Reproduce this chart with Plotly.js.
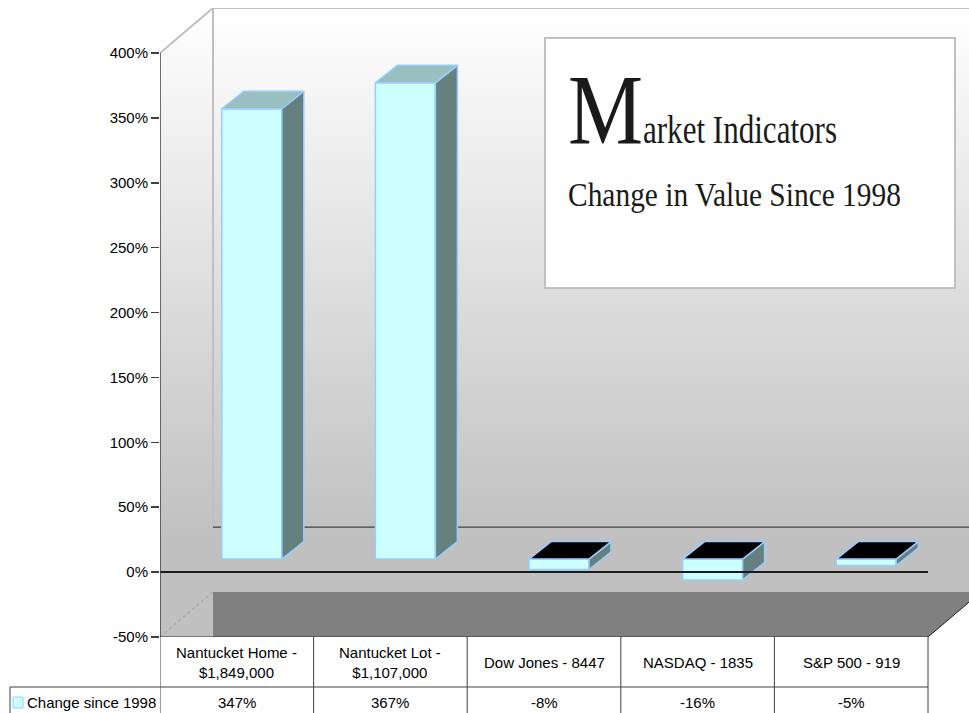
<!DOCTYPE html>
<html>
<head>
<meta charset="utf-8">
<script src="https://cdn.plot.ly/plotly-3.0.1.min.js"></script>
<style>
html,body{margin:0;padding:0;background:#fff;overflow:hidden}
#chart{width:969px;height:713px}
</style>
</head>
<body>
<div id="chart"></div>
<script>
// ---------------- data ----------------
const categories = [
  'Nantucket Home -<br>$1,849,000',
  'Nantucket Lot -<br>$1,107,000',
  'Dow Jones - 8447',
  'NASDAQ - 1835',
  'S&P 500 - 919'
];
const values = [347, 367, -8, -16, -5];
const seriesName = 'Change since 1998';
const yTickVals = [-50, 0, 50, 100, 150, 200, 250, 300, 350, 400];
const yTickText = yTickVals.map(v => v + '%');
const valueLabels = values.map(v => v + '%');
const titleInitial = 'M';
const titleRest = 'arket Indicators';
const subtitle = 'Change in Value Since 1998';

// ---------------- geometry (pixels -> data units) ----------------
const W = 969, H = 713;
const PLOT_L = 160, PLOT_B = 637, PLOT_T = 8;
const PX_CAT = 153.6;            // pixels per category
const PX_PCT = 584 / 450;        // pixels per percent
const Y_MIN = -50;
const X_MIN = -0.5;
const X_MAX = X_MIN + (W - PLOT_L) / PX_CAT;
const Y_MAX = Y_MIN + (PLOT_B - PLOT_T) / PX_PCT;
const N = categories.length;
const X_END = N - 0.5;
const Y_TOP = yTickVals[yTickVals.length - 1];
const pxToY = py => Y_MIN + (PLOT_B - py) / PX_PCT;

// wall depth
const WDX = 53 / PX_CAT, WDY = 45 / PX_PCT;
// bar placement in depth
const BDX0 = 15 / PX_CAT, BDY0 = 13 / PX_PCT;
const BDDX = 22 / PX_CAT, BDDY = 17.5 / PX_PCT;
const BW = 60 / PX_CAT;

const grad = {
  type: 'vertical',
  start: pxToY(540),
  stop: Y_MAX,
  colorscale: [[0, '#c0c0c0'], [1, '#ffffff']]
};

const traces = [];
const base = {type: 'scatter', mode: 'lines', hoverinfo: 'skip', showlegend: false};

// back wall
traces.push(Object.assign({}, base, {
  x: [X_MIN + WDX, X_MAX, X_MAX, X_MIN + WDX, X_MIN + WDX],
  y: [Y_MIN + WDY, Y_MIN + WDY, Y_MAX, Y_MAX, Y_MIN + WDY],
  fill: 'toself', fillcolor: '#e0e0e0', fillgradient: grad, line: {width: 0}
}));
// floor
traces.push(Object.assign({}, base, {
  x: [X_MIN, X_END, X_END + WDX, X_MIN + WDX, X_MIN],
  y: [Y_MIN, Y_MIN, Y_MIN + WDY, Y_MIN + WDY, Y_MIN],
  fill: 'toself', fillcolor: '#808080', line: {width: 0}
}));
// left wall
traces.push(Object.assign({}, base, {
  x: [X_MIN, X_MIN, X_MIN + WDX, X_MIN + WDX, X_MIN],
  y: [Y_MIN, Y_TOP, Y_MAX, Y_MIN, Y_MIN],
  fill: 'toself', fillcolor: '#e0e0e0', fillgradient: grad, line: {width: 0}
}));
// light frame edges
traces.push(Object.assign({}, base, {
  x: [X_MIN, X_MIN + WDX, X_MAX, null, X_MIN + WDX, X_MIN + WDX],
  y: [Y_TOP, Y_MAX, Y_MAX, null, Y_MAX, Y_MIN + WDY],
  line: {color: '#c0c0c0', width: 2}
}));
// dotted floor corner
traces.push(Object.assign({}, base, {
  x: [X_MIN, X_MIN + WDX], y: [Y_MIN, Y_MIN + WDY],
  line: {color: '#999999', width: 1, dash: 'dot'}
}));
// back zero gridline
traces.push(Object.assign({}, base, {
  x: [X_MIN + WDX, X_MAX], y: [WDY, WDY],
  line: {color: '#222222', width: 1}
}));
// floor right edge
traces.push(Object.assign({}, base, {
  x: [X_END, X_END + WDX], y: [Y_MIN, Y_MIN + WDY],
  line: {color: '#222222', width: 1}
}));

// front faces of the bars
traces.push({
  type: 'bar', name: seriesName, xaxis: 'x', yaxis: 'y2',
  x: values.map((_, i) => i), y: values,
  base: BDY0, width: BW, offset: BDX0 - BW / 2,
  marker: {color: '#ccffff', line: {color: '#99ccff', width: 1.5}},
  hoverinfo: 'skip', showlegend: false
});
// top and side faces
values.forEach((v, i) => {
  const top = Math.max(v, 0) + BDY0, bot = Math.min(v, 0) + BDY0;
  const xl = i + BDX0 - BW / 2, xr = xl + BW;
  traces.push(Object.assign({}, base, {
    yaxis: 'y2',
    x: [xr, xr + BDDX, xr + BDDX, xr, xr],
    y: [bot, bot + BDDY, top + BDDY, top, bot],
    fill: 'toself', fillcolor: '#668080',
    line: {color: '#99ccff', width: 1.5}
  }));
  traces.push(Object.assign({}, base, {
    yaxis: 'y2',
    x: [xl, xr, xr + BDDX, xl + BDDX, xl],
    y: [top, top, top + BDDY, top + BDDY, top],
    fill: 'toself', fillcolor: v >= 0 ? '#99bfbf' : '#000000',
    line: {color: '#99ccff', width: 1.5}
  }));
});

// ---------------- shapes ----------------
const tableTop = (H - PLOT_B) / H;
const rowLine = (H - 687) / H;
const shapes = [];
// front zero line
shapes.push({type: 'line', xref: 'x', yref: 'y', x0: X_MIN, x1: X_END, y0: 0, y1: 0,
  line: {color: '#1a1a1a', width: 2}, layer: 'above'});
// y axis line
shapes.push({type: 'line', xref: 'x', yref: 'y', x0: X_MIN, x1: X_MIN, y0: Y_MIN, y1: Y_TOP,
  line: {color: '#404040', width: 1.5}, layer: 'above'});
// floor front edge
shapes.push({type: 'line', xref: 'x', yref: 'y', x0: X_MIN, x1: X_END, y0: Y_MIN, y1: Y_MIN,
  line: {color: '#333333', width: 1}, layer: 'above'});
// table verticals
for (let k = 0; k <= N; k++) {
  shapes.push({type: 'line', xref: 'x', yref: 'paper', x0: k - 0.5, x1: k - 0.5, y0: 0, y1: tableTop,
    line: {color: '#404040', width: 1}, layer: 'above'});
}
// table row line and legend cell
shapes.push({type: 'line', xref: 'paper', yref: 'paper', x0: 10 / W, x1: (PLOT_L + N * PX_CAT) / W,
  y0: rowLine, y1: rowLine, line: {color: '#404040', width: 1}, layer: 'above'});
shapes.push({type: 'line', xref: 'paper', yref: 'paper', x0: 10 / W, x1: 10 / W,
  y0: 0, y1: rowLine, line: {color: '#404040', width: 1}, layer: 'above'});
shapes.push({type: 'rect', xref: 'paper', yref: 'paper', x0: 13 / W, x1: 23 / W,
  y0: (H - 708) / H, y1: (H - 697) / H, fillcolor: '#ccffff',
  line: {color: '#99ccff', width: 1}, layer: 'above'});
// title box
shapes.push({type: 'rect', xref: 'paper', yref: 'paper', x0: 545 / W, x1: 955 / W,
  y0: 1 - 288 / H, y1: 1 - 38 / H, fillcolor: '#ffffff',
  line: {color: '#c0c0c0', width: 2}, layer: 'above'});

// ---------------- annotations ----------------
const sans = 'Liberation Sans, Arial, sans-serif';
const serif = 'Liberation Serif, Times New Roman, serif';
const annotations = [];
// category labels, vertically centred in their table cells
categories.forEach((t, i) => {
  annotations.push({xref: 'x', yref: 'paper', x: i, y: (H - 662) / H, text: t,
    showarrow: false, xanchor: 'center', yanchor: 'middle', align: 'center',
    font: {family: sans, size: 15, color: '#000'}});
});
valueLabels.forEach((t, i) => {
  annotations.push({xref: 'x', yref: 'paper', x: i, y: (H - 702) / H, text: t,
    showarrow: false, xanchor: 'center', yanchor: 'middle', font: {family: sans, size: 15, color: '#000'}});
});
annotations.push({xref: 'paper', yref: 'paper', x: 25 / W, y: (H - 702) / H, text: seriesName,
  showarrow: false, xanchor: 'left', yanchor: 'middle', align: 'left',
  font: {family: sans, size: 15, color: '#000'}});
annotations.push({xref: 'paper', yref: 'paper', x: 566 / W, y: 1 - (143 - 0.3375 * 100) / H, text: titleInitial,
  showarrow: false, xanchor: 'left', yanchor: 'middle', align: 'left',
  font: {family: serif, size: 100, color: '#1a1a1a'}});
annotations.push({xref: 'paper', yref: 'paper', x: 641 / W, y: 1 - (143 - 0.3375 * 41) / H, text: titleRest,
  showarrow: false, xanchor: 'left', yanchor: 'middle', align: 'left',
  font: {family: serif, size: 41, color: '#1a1a1a'}});
annotations.push({xref: 'paper', yref: 'paper', x: 566 / W, y: 1 - (206 - 0.3375 * 33) / H, text: subtitle,
  showarrow: false, xanchor: 'left', yanchor: 'middle', align: 'left',
  font: {family: serif, size: 33, color: '#1a1a1a'}});

const fitWidths = {};
fitWidths[titleInitial] = 75;
fitWidths[titleRest] = 194;
fitWidths[subtitle] = 333;

const layout = {
  width: W, height: H,
  margin: {l: 0, r: 0, t: 0, b: 0},
  paper_bgcolor: '#ffffff', plot_bgcolor: 'rgba(0,0,0,0)',
  showlegend: false, hovermode: false,
  font: {family: sans, size: 15, color: '#000'},
  xaxis: {
    domain: [PLOT_L / W, 1], range: [X_MIN, X_MAX],
    tickmode: 'array', tickvals: categories.map((_, i) => i), ticktext: categories,
    showticklabels: false, ticks: '',
    showgrid: false, zeroline: false, showline: false, fixedrange: true
  },
  yaxis: {
    domain: [(H - PLOT_B) / H, (H - PLOT_T) / H], range: [Y_MIN, Y_MAX],
    tickmode: 'array', tickvals: yTickVals, ticktext: yTickText,
    ticks: 'outside', ticklen: 8, tickwidth: 1.5, tickcolor: '#404040',
    showgrid: false, zeroline: false, showline: false, fixedrange: true,
    tickfont: {family: sans, size: 15, color: '#000'}
  },
  yaxis2: {overlaying: 'y', range: [Y_MIN, Y_MAX], visible: false, fixedrange: true},
  shapes: shapes,
  annotations: annotations
};

Plotly.newPlot('chart', traces, layout, {staticPlot: true, displayModeBar: false}).then(gd => {
  gd.querySelectorAll('.annotation-text').forEach(t => {
    const w = fitWidths[t.textContent];
    if (w) {
      t.setAttribute('textLength', w);
      t.setAttribute('lengthAdjust', 'spacingAndGlyphs');
    }
  });
});
</script>
</body>
</html>
